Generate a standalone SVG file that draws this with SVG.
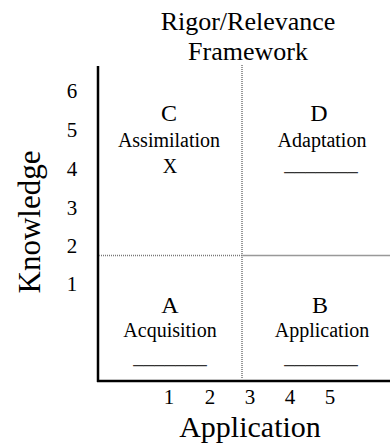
<svg xmlns="http://www.w3.org/2000/svg" width="390" height="447" viewBox="0 0 390 447" font-family="'Liberation Serif', 'DejaVu Serif', 'Times New Roman', Times, serif">
<style>
text { font-family: 'Liberation Serif', 'DejaVu Serif', Times, serif; fill: #000; text-anchor: middle; }
.title { font-size: 26px; }
.axis { font-size: 30px; }
.num { font-size: 21px; }
.letter { font-size: 24px; }
.label { font-size: 20px; }
.blank { font-size: 21px; fill: #333; }
.solid { stroke: #000; stroke-width: 2.5; fill: none; }
.dot { stroke: #777; stroke-width: 1.5; stroke-dasharray: 1 1; fill: none; }
.gray { stroke: #999; stroke-width: 1.5; fill: none; }
</style>
<g id="title">
<text class="title" x="248" y="30">Rigor/Relevance</text>
<text class="title" x="248" y="60">Framework</text>
</g>
<g id="connectors">
<line class="solid" x1="98" y1="66" x2="98" y2="382"/>
<line class="solid" x1="97" y1="381" x2="390" y2="381"/>
<line class="dot" x1="242" y1="65" x2="242" y2="378"/>
<line class="dot" x1="99" y1="255.5" x2="242" y2="255.5"/>
<line class="gray" x1="242" y1="255.5" x2="390" y2="255.5"/>
</g>
<g id="y-axis">
<text class="axis" transform="translate(40,222) rotate(-90)" style="font-size:31px">Knowledge</text>
<text class="num" x="72" y="98">6</text>
<text class="num" x="72" y="137">5</text>
<text class="num" x="72" y="176">4</text>
<text class="num" x="72" y="215">3</text>
<text class="num" x="72" y="253">2</text>
<text class="num" x="72" y="291">1</text>
</g>
<g id="x-axis">
<text class="num" x="169" y="404">1</text>
<text class="num" x="210" y="404">2</text>
<text class="num" x="250" y="404">3</text>
<text class="num" x="290" y="404">4</text>
<text class="num" x="330" y="404">5</text>
<text class="axis" x="250" y="437">Application</text>
</g>
<g id="quadrant-c">
<text class="letter" x="169" y="121">C</text>
<text class="label" x="169" y="147">Assimilation</text>
<text class="label" x="170" y="173">X</text>
</g>
<g id="quadrant-d">
<text class="letter" x="319" y="121">D</text>
<text class="label" x="322" y="147">Adaptation</text>
<text class="blank" x="321" y="170">_______</text>
</g>
<g id="quadrant-a">
<text class="letter" x="170" y="313">A</text>
<text class="label" x="170" y="337">Acquisition</text>
<text class="blank" x="170" y="363">_______</text>
</g>
<g id="quadrant-b">
<text class="letter" x="320" y="313">B</text>
<text class="label" x="322" y="337">Application</text>
<text class="blank" x="321" y="363">_______</text>
</g>
</svg>
